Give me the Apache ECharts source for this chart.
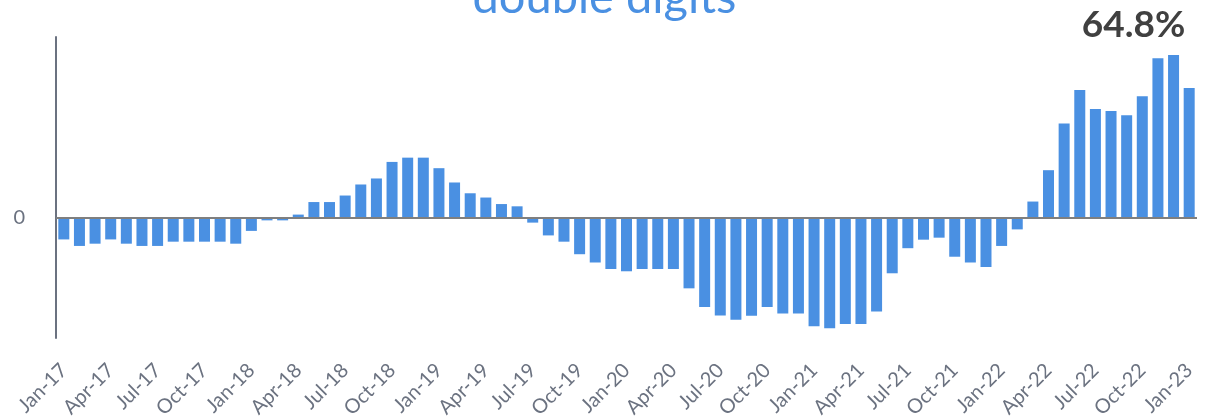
<!DOCTYPE html>
<html>
<head>
<meta charset="utf-8">
<script src="https://cdn.jsdelivr.net/npm/echarts@6/dist/echarts.min.js"></script>
<style>
html,body{margin:0;padding:0;background:#fff;}
#chart{width:1209px;height:419px;}
</style>
</head>
<body>
<div id="chart"></div>
<script>
var titleText = 'double digits';
var categories = [
 'Jan-17','Feb-17','Mar-17','Apr-17','May-17','Jun-17','Jul-17','Aug-17','Sep-17','Oct-17','Nov-17','Dec-17',
 'Jan-18','Feb-18','Mar-18','Apr-18','May-18','Jun-18','Jul-18','Aug-18','Sep-18','Oct-18','Nov-18','Dec-18',
 'Jan-19','Feb-19','Mar-19','Apr-19','May-19','Jun-19','Jul-19','Aug-19','Sep-19','Oct-19','Nov-19','Dec-19',
 'Jan-20','Feb-20','Mar-20','Apr-20','May-20','Jun-20','Jul-20','Aug-20','Sep-20','Oct-20','Nov-20','Dec-20',
 'Jan-21','Feb-21','Mar-21','Apr-21','May-21','Jun-21','Jul-21','Aug-21','Sep-21','Oct-21','Nov-21','Dec-21',
 'Jan-22','Feb-22','Mar-22','Apr-22','May-22','Jun-22','Jul-22','Aug-22','Sep-22','Oct-22','Nov-22','Dec-22',
 'Jan-23'
];
var values2017 = [-8.7,-11.3,-10.4,-8.7,-10.4,-11.3,-11.3,-9.6,-9.6,-9.6,-9.6,-10.4];
var values2018 = [-5.3,-1.1,-1.1,1.2,6.2,6.2,8.8,13.2,15.6,22.2,23.9,23.9];
var values2019 = [19.7,14.0,9.7,8.0,5.4,4.5,-2.0,-7.1,-9.6,-14.6,-17.9,-20.5];
var values2020 = [-21.4,-20.5,-20.5,-20.5,-28.2,-35.6,-39.0,-40.7,-39.1,-35.6,-38.2,-38.2];
var values2021 = [-43.3,-44.1,-42.4,-42.4,-37.4,-22.2,-12.2,-8.8,-8.0,-15.6,-17.9,-19.7];
var values2022 = [-11.3,-4.7,6.4,18.9,37.5,50.9,43.3,42.5,40.8,48.4,63.5,64.8];
var values2023 = [51.7];
var highlightLabel = 'Dec-22';
var yTicks = { min: -48, max: 72, interval: 24 };

var values = [].concat(values2017, values2018, values2019, values2020, values2021, values2022, values2023);
var seriesData = values.map(function (v, i) {
  if (categories[i] === highlightLabel) {
    return {
      value: v,
      label: {
        show: true, position: 'top', offset: [-40, -6],
        formatter: function (p) { return p.value.toFixed(1) + '%'; },
        fontFamily: 'Lato', fontWeight: 'bold', fontSize: 37, color: '#404040'
      }
    };
  }
  return v;
});

var chart = echarts.init(document.getElementById('chart'), null, { renderer: 'canvas' });
chart.setOption({
  animation: false,
  title: {
    text: titleText, left: 'center', top: -31,
    textStyle: { fontFamily: 'Lato', fontWeight: 'normal', fontSize: 47, color: '#4a90e2' }
  },
  grid: { left: 56, right: 12, top: 37, bottom: 81, containLabel: false, outerBoundsMode: 'none' },
  xAxis: {
    type: 'category', data: categories,
    axisLine: { show: false, onZero: false },
    axisTick: { show: false },
    axisLabel: {
      interval: 2, rotate: 45, margin: 29,
      fontFamily: 'Lato', fontSize: 20, color: '#6b7280'
    }
  },
  yAxis: {
    type: 'value', min: yTicks.min, max: yTicks.max, interval: yTicks.interval,
    axisLine: { show: true, lineStyle: { color: '#6b7280', width: 2 } },
    axisTick: { show: false },
    splitLine: { show: false },
    axisLabel: {
      margin: 31, fontFamily: 'Lato', fontSize: 20, color: '#6b7280',
      formatter: function (v) { return v === 0 ? '0' : ''; }
    }
  },
  series: [{
    type: 'bar', data: seriesData, barWidth: 11,
    itemStyle: { color: '#4a90e2' },
    markLine: {
      silent: true, symbol: ['none', 'none'],
      label: { show: false },
      lineStyle: { color: '#7f7f7f', width: 2, type: 'solid' },
      data: [{ yAxis: 0 }]
    }
  }]
});
</script>
</body>
</html>
